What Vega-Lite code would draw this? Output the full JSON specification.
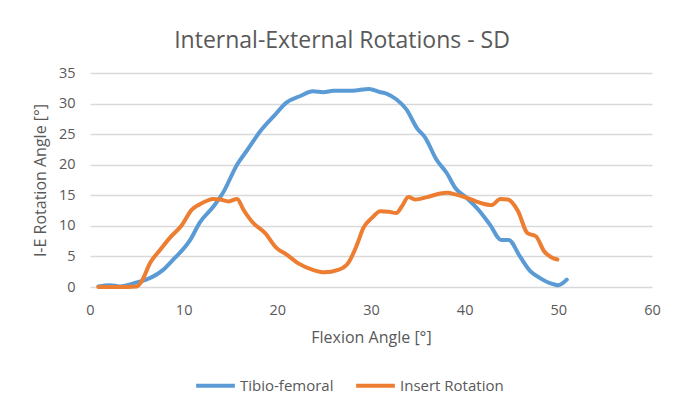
{
  "$schema": "https://vega.github.io/schema/vega-lite/v6.json",
  "width": 562,
  "height": 214,
  "autosize": "none",
  "padding": {"left": 90, "top": 73, "right": 32, "bottom": 131},
  "background": "white",
  "config": {
    "font": "Open Sans",
    "view": {"stroke": null},
    "axis": {"labelColor": "#595959", "titleColor": "#595959", "labelFontSize": 14.5, "titleFontSize": 16, "titleFontWeight": "normal"}
  },
  "title": {"text": "Internal-External Rotations - SD", "fontSize": 23, "fontWeight": "normal", "color": "#595959", "offset": 12, "dx": -29, "anchor": "middle"},
  "data": {"values": [
    {"s": "Tibio-femoral", "x": 0.9, "y": 0.1},
    {"s": "Tibio-femoral", "x": 2.1, "y": 0.3},
    {"s": "Tibio-femoral", "x": 3.2, "y": 0.1},
    {"s": "Tibio-femoral", "x": 5.0, "y": 0.76},
    {"s": "Tibio-femoral", "x": 6.0, "y": 1.2},
    {"s": "Tibio-femoral", "x": 7.8, "y": 2.8},
    {"s": "Tibio-femoral", "x": 8.9, "y": 4.5},
    {"s": "Tibio-femoral", "x": 10.7, "y": 7.7},
    {"s": "Tibio-femoral", "x": 11.7, "y": 10.5},
    {"s": "Tibio-femoral", "x": 13.2, "y": 13.2},
    {"s": "Tibio-femoral", "x": 14.2, "y": 15.4},
    {"s": "Tibio-femoral", "x": 15.7, "y": 20.0},
    {"s": "Tibio-femoral", "x": 16.7, "y": 22.2},
    {"s": "Tibio-femoral", "x": 18.3, "y": 25.7},
    {"s": "Tibio-femoral", "x": 19.6, "y": 27.9},
    {"s": "Tibio-femoral", "x": 21.0, "y": 30.2},
    {"s": "Tibio-femoral", "x": 22.4, "y": 31.2},
    {"s": "Tibio-femoral", "x": 23.8, "y": 32.0},
    {"s": "Tibio-femoral", "x": 24.9, "y": 31.85},
    {"s": "Tibio-femoral", "x": 26.0, "y": 32.1},
    {"s": "Tibio-femoral", "x": 28.0, "y": 32.1},
    {"s": "Tibio-femoral", "x": 29.8, "y": 32.4},
    {"s": "Tibio-femoral", "x": 30.9, "y": 31.9},
    {"s": "Tibio-femoral", "x": 31.7, "y": 31.6},
    {"s": "Tibio-femoral", "x": 32.7, "y": 30.7},
    {"s": "Tibio-femoral", "x": 33.8, "y": 29.0},
    {"s": "Tibio-femoral", "x": 34.9, "y": 26.0},
    {"s": "Tibio-femoral", "x": 35.8, "y": 24.4},
    {"s": "Tibio-femoral", "x": 37.0, "y": 20.8},
    {"s": "Tibio-femoral", "x": 38.1, "y": 18.6},
    {"s": "Tibio-femoral", "x": 39.0, "y": 16.2},
    {"s": "Tibio-femoral", "x": 40.2, "y": 14.6},
    {"s": "Tibio-femoral", "x": 41.6, "y": 12.4},
    {"s": "Tibio-femoral", "x": 42.7, "y": 10.2},
    {"s": "Tibio-femoral", "x": 43.9, "y": 7.7},
    {"s": "Tibio-femoral", "x": 44.7, "y": 7.7},
    {"s": "Tibio-femoral", "x": 45.9, "y": 5.0},
    {"s": "Tibio-femoral", "x": 47.0, "y": 2.6},
    {"s": "Tibio-femoral", "x": 48.0, "y": 1.5},
    {"s": "Tibio-femoral", "x": 49.6, "y": 0.4},
    {"s": "Tibio-femoral", "x": 50.0, "y": 0.3},
    {"s": "Tibio-femoral", "x": 50.9, "y": 1.2},
    {"s": "Insert Rotation", "x": 0.9, "y": 0.0},
    {"s": "Insert Rotation", "x": 3.0, "y": 0.0},
    {"s": "Insert Rotation", "x": 5.0, "y": 0.1},
    {"s": "Insert Rotation", "x": 5.5, "y": 0.9},
    {"s": "Insert Rotation", "x": 6.4, "y": 3.9},
    {"s": "Insert Rotation", "x": 7.5, "y": 6.1},
    {"s": "Insert Rotation", "x": 8.5, "y": 8.0},
    {"s": "Insert Rotation", "x": 9.8, "y": 10.1},
    {"s": "Insert Rotation", "x": 10.85, "y": 12.6},
    {"s": "Insert Rotation", "x": 11.7, "y": 13.5},
    {"s": "Insert Rotation", "x": 13.2, "y": 14.4},
    {"s": "Insert Rotation", "x": 13.9, "y": 14.3},
    {"s": "Insert Rotation", "x": 14.8, "y": 14.0},
    {"s": "Insert Rotation", "x": 15.7, "y": 14.4},
    {"s": "Insert Rotation", "x": 16.4, "y": 12.6},
    {"s": "Insert Rotation", "x": 17.4, "y": 10.5},
    {"s": "Insert Rotation", "x": 18.7, "y": 8.8},
    {"s": "Insert Rotation", "x": 19.9, "y": 6.4},
    {"s": "Insert Rotation", "x": 21.0, "y": 5.3},
    {"s": "Insert Rotation", "x": 22.2, "y": 3.9},
    {"s": "Insert Rotation", "x": 23.8, "y": 2.8},
    {"s": "Insert Rotation", "x": 25.0, "y": 2.4},
    {"s": "Insert Rotation", "x": 26.5, "y": 2.8},
    {"s": "Insert Rotation", "x": 27.6, "y": 4.0},
    {"s": "Insert Rotation", "x": 28.5, "y": 6.9},
    {"s": "Insert Rotation", "x": 29.2, "y": 9.7},
    {"s": "Insert Rotation", "x": 30.1, "y": 11.3},
    {"s": "Insert Rotation", "x": 31.0, "y": 12.4},
    {"s": "Insert Rotation", "x": 31.9, "y": 12.3},
    {"s": "Insert Rotation", "x": 32.7, "y": 12.1},
    {"s": "Insert Rotation", "x": 33.3, "y": 13.2},
    {"s": "Insert Rotation", "x": 34.0, "y": 14.7},
    {"s": "Insert Rotation", "x": 34.7, "y": 14.3},
    {"s": "Insert Rotation", "x": 36.0, "y": 14.7},
    {"s": "Insert Rotation", "x": 37.4, "y": 15.3},
    {"s": "Insert Rotation", "x": 38.1, "y": 15.4},
    {"s": "Insert Rotation", "x": 39.1, "y": 15.1},
    {"s": "Insert Rotation", "x": 40.2, "y": 14.6},
    {"s": "Insert Rotation", "x": 41.6, "y": 13.8},
    {"s": "Insert Rotation", "x": 42.9, "y": 13.4},
    {"s": "Insert Rotation", "x": 43.8, "y": 14.4},
    {"s": "Insert Rotation", "x": 44.6, "y": 14.3},
    {"s": "Insert Rotation", "x": 45.7, "y": 12.4},
    {"s": "Insert Rotation", "x": 46.7, "y": 8.8},
    {"s": "Insert Rotation", "x": 47.6, "y": 8.3},
    {"s": "Insert Rotation", "x": 48.5, "y": 5.8},
    {"s": "Insert Rotation", "x": 49.2, "y": 4.9},
    {"s": "Insert Rotation", "x": 49.9, "y": 4.5}
  ]},
  "mark": {"type": "line", "strokeWidth": 4, "interpolate": "monotone", "strokeCap": "round", "strokeJoin": "round"},
  "encoding": {
    "x": {"field": "x", "type": "quantitative", "title": "Flexion Angle [°]",
      "scale": {"domain": [0, 60], "nice": false},
      "axis": {"values": [0, 10, 20, 30, 40, 50, 60], "grid": false, "domain": false, "ticks": false, "labelPadding": 16, "titlePadding": 13, "labelFlush": false}},
    "y": {"field": "y", "type": "quantitative", "title": "I-E Rotation Angle [°]",
      "scale": {"domain": [0, 35], "nice": false},
      "axis": {"values": [0, 5, 10, 15, 20, 25, 30, 35], "grid": true, "gridColor": "#d9d9d9", "gridWidth": 1.5, "domain": false, "ticks": false, "labelPadding": 15, "titlePadding": 10}},
    "color": {"field": "s", "type": "nominal", "sort": ["Tibio-femoral", "Insert Rotation"],
      "scale": {"domain": ["Tibio-femoral", "Insert Rotation"], "range": ["#5B9BD5", "#ED7D31"]},
      "legend": {"title": null, "orient": "none", "legendX": 104, "legendY": 291, "direction": "horizontal",
        "symbolType": "stroke", "symbolSize": 1500, "symbolStrokeWidth": 4, "labelFontSize": 15, "labelColor": "#595959", "columnPadding": 14, "labelOffset": 3}}
  }
}
